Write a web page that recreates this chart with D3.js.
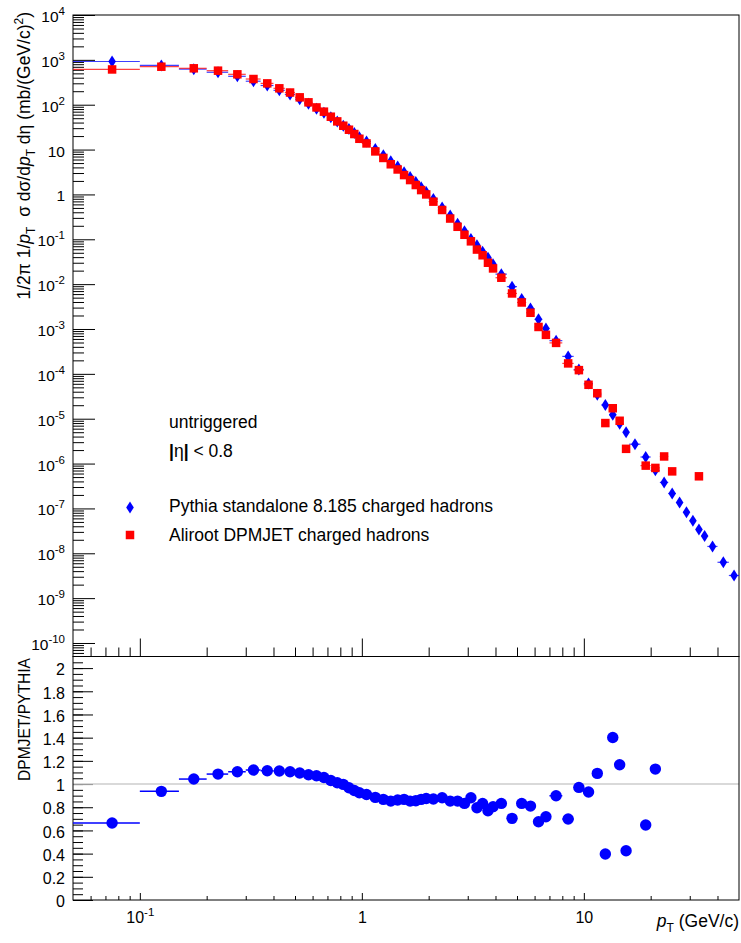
<!DOCTYPE html>
<html>
<head>
<meta charset="utf-8">
<script src="https://cdn.jsdelivr.net/npm/d3@7"></script>
<style>
  body { margin: 0; background: #fff; }
  svg { display: block; font-family: "Liberation Sans", Arial, Helvetica, sans-serif; }
</style>
</head>
<body>
<svg id="chart" width="741" height="943"></svg>
<script>
// pT bin edges (GeV/c)
var ptEdges = [0.05,0.1,0.15,0.2,0.25,0.3,0.35,0.4,0.45,0.5,0.55,0.6,0.65,0.7,0.75,0.8,0.85,0.9,0.95,
    1.0,1.1,1.2,1.3,1.4,1.5,1.6,1.7,1.8,1.9,
    2.0,2.2,2.4,2.6,2.8,3.0,3.2,3.4,3.6,3.8,
    4.0,4.5,5.0,5.5,6.0,6.5,
    7,8,9,10,11,12,13,14,15,
    16,18,20,22,24,26,28,30,32,34,
    36,40,45,50];

// Pythia standalone 8.185 charged hadrons
var pythia = [920,750,621,529,430,334,268,209,169,133,105,81,66,52.4,42,34.1,28.6,23.5,18.8,
    15.1,10.3,7.5,5.5,4.18,3.11,2.45,1.89,1.44,1.14,
    0.79,0.51,0.34,0.223,0.151,0.102,0.074,0.0528,0.039,0.0278,
    0.0167,0.0088,0.00468,0.00285,0.00164,0.00103,
    5.5e-4,2.45e-4,1.25e-4,6.1e-5,3.4e-5,2.02e-5,1.22e-5,7.7e-6,5.0e-6,
    2.7e-6,1.4e-6,7.1e-7,3.8e-7,2.15e-7,1.35e-7,8.2e-8,5.3e-8,3.4e-8,2.44e-8,
    1.42e-8,6.3e-9,3.2e-9];

// Aliroot DPMJET charged hadrons (null = empty bin)
var dpmjet = [611,703,648,574,476,374,299,232,187,146,113,87,70,54,42.5,34,27.7,22.2,17.4,
    13.7,9.1,6.5,4.7,3.6,2.7,2.09,1.62,1.25,1.0,
    0.69,0.45,0.29,0.19,0.126,0.09,0.059,0.044,0.030,0.0224,
    0.0139,0.0062,0.0039,0.0023,0.00111,7.4e-4,
    4.9e-4,1.71e-4,1.21e-4,5.7e-5,3.7e-5,8.0e-6,1.71e-5,9.0e-6,2.13e-6,
    null,9.0e-7,8.0e-7,1.44e-6,6.7e-7,null,null,null,5.2e-7,null,
    null,null,null];

// DPMJET/PYTHIA (null = not drawn / out of range)
var ratio = [0.664,0.937,1.043,1.086,1.106,1.121,1.115,1.112,1.106,1.095,1.080,1.072,1.057,1.031,1.011,0.997,0.968,0.945,0.925,
    0.91,0.885,0.868,0.853,0.862,0.868,0.853,0.856,0.868,0.876,
    0.871,0.882,0.853,0.853,0.833,0.882,0.796,0.833,0.770,0.805,
    0.833,0.704,0.833,0.81,0.675,0.718,
    0.899,0.698,0.971,0.931,1.092,0.397,1.402,1.167,0.425,
    null,0.647,1.129,null,null,null,null,null,null,null,
    null,null,null];

var yTopTicks = [1e4,1e3,1e2,1e1,1,1e-1,1e-2,1e-3,1e-4,1e-5,1e-6,1e-7,1e-8,1e-9,1e-10];
var ratioTicks = [0,0.2,0.4,0.6,0.8,1,1.2,1.4,1.6,1.8,2];
var xTicks = [0.1,1,10];

var svg = d3.select("#chart"),
    left = 73, right = 739,
    topY = 15, midY = 656.5, botY = 900,
    blue = "#0000ff", red = "#ff0000";

var x    = d3.scaleLog().domain([0.05, 50]).range([left, right]),
    yTop = d3.scaleLog().domain([5e-11, 1e4]).range([midY, topY]),
    yRat = d3.scaleLinear().domain([0, 2.1]).range([botY, midY]);

var bins = pythia.map(function(v, i){
    return {lo: ptEdges[i], hi: ptEdges[i+1], c: (ptEdges[i] + ptEdges[i+1]) / 2,
            py: v, dp: dpmjet[i], r: ratio[i]};
});

function logMinors(dom){
    var out = [];
    for (var e = -11; e <= 4; e++)
        for (var k = 2; k <= 9; k++){
            var v = k * Math.pow(10, e);
            if (v > dom[0] && v < dom[1]) out.push(v);
        }
    return out;
}
function supLabel(sel, d){
    var e = Math.round(Math.log10(d));
    sel.text(null);
    if (e === 0) sel.text("1");
    else if (e === 1) sel.text("10");
    else {
        sel.append("tspan").text("10");
        sel.append("tspan").attr("dy", -7).attr("font-size", 11.5).text(e);
    }
}
function styleAxis(g, fs){
    g.select(".domain").remove();
    g.attr("font-family", null).attr("font-size", fs || 15.5);
    g.selectAll("line").attr("stroke", "#000").attr("stroke-width", 1);
    g.selectAll("text").attr("fill", "#000");
}

// ---------- upper pad ----------
var gMinY = svg.append("g").attr("transform", `translate(${left},0)`)
    .call(d3.axisLeft(yTop).tickValues(logMinors(yTop.domain())).tickSize(-11).tickFormat(""));
styleAxis(gMinY);
var gMajY = svg.append("g").attr("transform", `translate(${left},0)`)
    .call(d3.axisLeft(yTop).tickValues(yTopTicks).tickSize(-22).tickPadding(8).tickFormat(""));
styleAxis(gMajY);
gMajY.selectAll(".tick text").attr("dy", "0.42em").each(function(d){ supLabel(d3.select(this), d); });

var gMinXt = svg.append("g").attr("transform", `translate(0,${midY})`)
    .call(d3.axisBottom(x).tickValues(logMinors(x.domain())).tickSize(-9).tickFormat(""));
styleAxis(gMinXt);
var gMajXt = svg.append("g").attr("transform", `translate(0,${midY})`)
    .call(d3.axisBottom(x).tickValues(xTicks).tickSize(-18).tickFormat(""));
styleAxis(gMajXt);

svg.append("rect").attr("x", left).attr("y", topY).attr("width", right - left).attr("height", midY - topY)
    .attr("fill", "none").attr("stroke", "#000").attr("stroke-width", 1);

var upper = svg.append("g");

// pythia: x-error lines + diamonds
upper.selectAll(".pyErr").data(bins).enter().append("line")
    .attr("class", "pyErr")
    .attr("x1", d => x(d.lo)).attr("x2", d => x(d.hi))
    .attr("y1", d => yTop(d.py)).attr("y2", d => yTop(d.py))
    .attr("stroke", blue).attr("stroke-width", 1.2).attr("opacity", 0.75);
upper.selectAll(".py").data(bins).enter().append("path")
    .attr("class", "py")
    .attr("transform", d => `translate(${x(d.c)},${yTop(d.py)})`)
    .attr("d", "M0,-6L3.8,0L0,6L-3.8,0Z")
    .attr("fill", blue);

// dpmjet: x-error lines + squares
var dpBins = bins.filter(d => d.dp != null);
upper.selectAll(".dpErr").data(dpBins).enter().append("line")
    .attr("class", "dpErr")
    .attr("x1", d => x(d.lo)).attr("x2", d => x(d.hi))
    .attr("y1", d => yTop(d.dp)).attr("y2", d => yTop(d.dp))
    .attr("stroke", red).attr("stroke-width", 1.2).attr("opacity", 0.75);
upper.selectAll(".dp").data(dpBins).enter().append("rect")
    .attr("class", "dp")
    .attr("x", d => x(d.c) - 4.25).attr("y", d => yTop(d.dp) - 4.25)
    .attr("width", 8.5).attr("height", 8.5)
    .attr("fill", red);

// y title upper
var t1 = svg.append("text")
    .attr("transform", "translate(30,12) rotate(-90)")
    .attr("text-anchor", "end").attr("font-size", 17.5);
t1.append("tspan").text("1/2\u03c0 1/");
t1.append("tspan").attr("font-style", "italic").text("p");
t1.append("tspan").attr("dy", 5).attr("font-size", 12).text("T");
t1.append("tspan").attr("dy", -5).text("\u00a0 \u03c3 d\u03c3/d");
t1.append("tspan").attr("font-style", "italic").text("p");
t1.append("tspan").attr("dy", 5).attr("font-size", 12).text("T");
t1.append("tspan").attr("dy", -5).text(" d\u03b7 (mb/(GeV/c)");
t1.append("tspan").attr("dy", -7).attr("font-size", 12).text("2");
t1.append("tspan").attr("dy", 7).text(")");

// legend / labels
svg.append("text").attr("x", 169).attr("y", 427.5).attr("font-size", 17.5).text("untriggered");
var eta = svg.append("text").attr("x", 169).attr("y", 456.5).attr("font-size", 17.5);
eta.append("tspan").attr("font-weight", "bold").text("|");
eta.append("tspan").text("\u03b7");
eta.append("tspan").attr("font-weight", "bold").text("|");
eta.append("tspan").text(" < 0.8");
svg.append("path").attr("transform", "translate(130,507.5)").attr("d", "M0,-6L3.8,0L0,6L-3.8,0Z").attr("fill", blue);
svg.append("text").attr("x", 169).attr("y", 512).attr("font-size", 17.5).text("Pythia standalone 8.185 charged hadrons");
svg.append("rect").attr("x", 130 - 4.25).attr("y", 535 - 4.25).attr("width", 8.5).attr("height", 8.5).attr("fill", red);
svg.append("text").attr("x", 169).attr("y", 540.5).attr("font-size", 17.5).text("Aliroot DPMJET charged hadrons");

// ---------- lower pad ----------
var gMinR = svg.append("g").attr("transform", `translate(${left},0)`)
    .call(d3.axisLeft(yRat).tickValues(d3.range(0.05, 2.1, 0.05)).tickSize(-10).tickFormat(""));
styleAxis(gMinR);
var gMajR = svg.append("g").attr("transform", `translate(${left},0)`)
    .call(d3.axisLeft(yRat).tickValues(ratioTicks).tickSize(-20).tickPadding(8)
        .tickFormat(d => String(+d.toFixed(1))));
styleAxis(gMajR, 16);
gMajR.selectAll(".tick text").attr("dy", "0.42em");

var gMinXb = svg.append("g").attr("transform", `translate(0,${botY})`)
    .call(d3.axisBottom(x).tickValues(logMinors(x.domain())).tickSize(-4).tickFormat(""));
styleAxis(gMinXb);
var gMajXb = svg.append("g").attr("transform", `translate(0,${botY})`)
    .call(d3.axisBottom(x).tickValues(xTicks).tickSize(-7).tickPadding(12).tickFormat(""));
styleAxis(gMajXb, 16);
gMajXb.selectAll(".tick text").attr("dy", "0.71em").each(function(d){ supLabel(d3.select(this), d); });

svg.append("line").attr("x1", left).attr("x2", right).attr("y1", yRat(1)).attr("y2", yRat(1))
    .attr("stroke", "#cccccc").attr("stroke-width", 1.5);

svg.append("rect").attr("x", left).attr("y", midY).attr("width", right - left).attr("height", botY - midY)
    .attr("fill", "none").attr("stroke", "#000").attr("stroke-width", 1);

var rBins = bins.filter(d => d.r != null);
var lower = svg.append("g");
lower.selectAll(".rErr").data(rBins).enter().append("line")
    .attr("class", "rErr")
    .attr("x1", d => x(d.lo)).attr("x2", d => x(d.hi))
    .attr("y1", d => yRat(d.r)).attr("y2", d => yRat(d.r))
    .attr("stroke", blue).attr("stroke-width", 1.5);
lower.selectAll(".rPt").data(rBins).enter().append("circle")
    .attr("class", "rPt")
    .attr("cx", d => x(d.c)).attr("cy", d => yRat(d.r)).attr("r", 5.7)
    .attr("fill", blue);

var t2 = svg.append("text")
    .attr("transform", "translate(30,658) rotate(-90)")
    .attr("text-anchor", "end").attr("font-size", 15.6).text("DPMJET/PYTHIA");

var t3 = svg.append("text").attr("x", 739).attr("y", 927)
    .attr("text-anchor", "end").attr("font-size", 17.5);
t3.append("tspan").attr("font-style", "italic").text("p");
t3.append("tspan").attr("dy", 5).attr("font-size", 12).text("T");
t3.append("tspan").attr("dy", -5).text(" (GeV/c)");
</script>
</body>
</html>
